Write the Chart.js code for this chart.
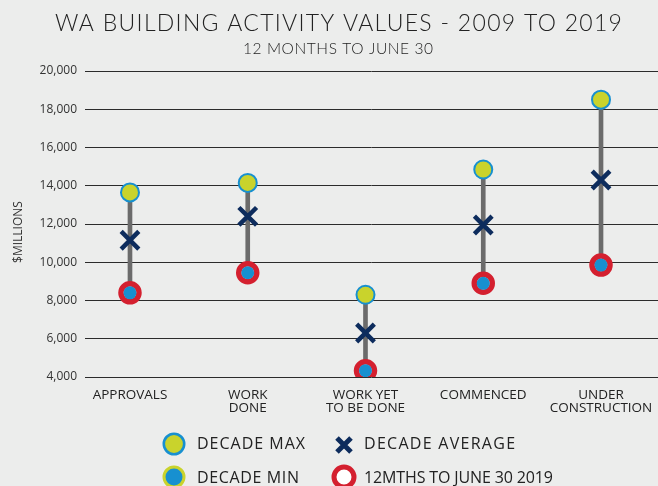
<!DOCTYPE html>
<html><head><meta charset="utf-8">
<script src="https://cdn.jsdelivr.net/npm/chart.js@4.4.0/dist/chart.umd.min.js"></script>
<style>
html,body{margin:0;padding:0;background:#ecedec;overflow:hidden}
#wrap{width:658px;height:486px;position:relative}
</style>
</head><body>
<div id="wrap"><canvas id="c" width="658" height="486"></canvas></div>
<script>
// ---- data ----
const categories = [['APPROVALS'], ['WORK', 'DONE'], ['WORK YET', 'TO BE DONE'], ['COMMENCED'], ['UNDER', 'CONSTRUCTION']];
const decadeMax = [13650, 14150, 8300, 14850, 18500];
const decadeAvg = [11150, 12400, 6300, 11950, 14300];
const decadeMin = [8400, 9450, 4330, 8900, 9850];
const current2019 = [8400, 9450, 4330, 8900, 9850];
const yTickValues = [4000, 6000, 8000, 10000, 12000, 14000, 16000, 18000, 20000];
const titleText = 'WA BUILDING ACTIVITY VALUES - 2009 TO 2019';
const subtitleText = '12 MONTHS TO JUNE 30';
const yTitle = '$MILLIONS';
const legendLabels = ['DECADE MAX', 'DECADE AVERAGE', 'DECADE MIN', '12MTHS TO JUNE 30 2019'];

// ---- styles ----
const YELLOW = '#c9d32c', BLUE = '#1790d0', RED = '#d4202f', NAVY = '#0d2c5d', GREY = '#6b6b6b', TEXT = '#222';
const FONT = "'Open Sans', 'Noto Sans', sans-serif";

const pts = arr => arr.map((v, i) => ({x: i, y: v}));

function fitText(ctx, text, x, y, targetW, font) {
  ctx.font = font;
  ctx.letterSpacing = '0px';
  const w = ctx.measureText(text).width;
  const n = text.length;
  const ls = n > 1 ? (targetW - w) / (n - 1) : 0;
  ctx.letterSpacing = ls.toFixed(2) + 'px';
  ctx.fillText(text, x, y);
  ctx.letterSpacing = '0px';
}

const decor = {
  id: 'decor',
  afterDraw(chart) {
    const ctx = chart.ctx;
    ctx.save();
    ctx.fillStyle = TEXT;
    ctx.textBaseline = 'middle';
    ctx.textAlign = 'left';
    // title & subtitle
    fitText(ctx, titleText, 55, 24, 567, "300 23px Lato, sans-serif");
    fitText(ctx, subtitleText, 243, 48.5, 190, "300 15.5px Lato, sans-serif");
    // y title
    ctx.save();
    ctx.translate(19, 232);
    ctx.rotate(-Math.PI / 2);
    ctx.textAlign = 'center';
    ctx.font = "12px " + FONT;
    ctx.fillStyle = '#333';
    ctx.fillText(yTitle, 0, 0);
    ctx.restore();
    // legend
    ctx.beginPath(); ctx.arc(174, 444, 10.2, 0, Math.PI * 2);
    ctx.fillStyle = YELLOW; ctx.fill(); ctx.lineWidth = 2.6; ctx.strokeStyle = BLUE; ctx.stroke();
    ctx.beginPath(); ctx.arc(174, 477, 10, 0, Math.PI * 2);
    ctx.fillStyle = BLUE; ctx.fill(); ctx.lineWidth = 3; ctx.strokeStyle = YELLOW; ctx.stroke();
    ctx.beginPath();
    ctx.moveTo(337, 438); ctx.lineTo(351, 452);
    ctx.moveTo(351, 438); ctx.lineTo(337, 452);
    ctx.lineWidth = 5; ctx.strokeStyle = NAVY; ctx.lineCap = 'butt'; ctx.stroke();
    ctx.beginPath(); ctx.arc(344, 477, 10, 0, Math.PI * 2);
    ctx.fillStyle = '#ffffff'; ctx.fill(); ctx.lineWidth = 5; ctx.strokeStyle = RED; ctx.stroke();
    ctx.fillStyle = TEXT;
    const lf = "16px " + FONT;
    fitText(ctx, legendLabels[0], 197, 444, 108, lf);
    fitText(ctx, legendLabels[1], 364, 444, 151, lf);
    fitText(ctx, legendLabels[2], 197, 478, 102, lf);
    fitText(ctx, legendLabels[3], 364, 478, 189, lf);
    ctx.restore();
  }
};

new Chart(document.getElementById('c'), {
  type: 'scatter',
  data: {
    datasets: [
      { label: legendLabels[2], data: pts(decadeMin), pointStyle: 'circle', pointRadius: 6.5,
        backgroundColor: BLUE, borderColor: BLUE, borderWidth: 0, order: 1 },
      { label: legendLabels[1], data: pts(decadeAvg), pointStyle: 'crossRot', pointRadius: 12.5,
        borderColor: NAVY, backgroundColor: NAVY, borderWidth: 4.5, order: 1 },
      { label: legendLabels[0], data: pts(decadeMax), pointStyle: 'circle', pointRadius: 9,
        backgroundColor: YELLOW, borderColor: BLUE, borderWidth: 2, order: 1 },
      { label: legendLabels[3], data: pts(current2019), pointStyle: 'circle', pointRadius: 9,
        backgroundColor: '#ffffff', borderColor: RED, borderWidth: 5.5, order: 2 },
      { type: 'bar', label: 'range', data: decadeMin.map((v, i) => ({x: i, y: [v, decadeMax[i]]})),
        backgroundColor: GREY, borderWidth: 0, barThickness: 4, order: 5 }
    ]
  },
  options: {
    responsive: false,
    animation: false,
    events: [],
    layout: { autoPadding: false, padding: { top: 71, bottom: 59, left: 0, right: 0 } },
    plugins: { legend: { display: false }, tooltip: { enabled: false }, title: { display: false } },
    scales: {
      x: {
        type: 'linear', min: -0.382, max: 4.484, offset: false,
        grid: { display: false, drawTicks: false, offset: false },
        border: { display: false },
        afterBuildTicks: ax => { ax.ticks = categories.map((c, i) => ({ value: i })); },
        afterFit: ax => { ax.height = 50; ax.paddingLeft = 0; ax.paddingRight = 0; },
        ticks: {
          autoSkip: false, maxRotation: 0, minRotation: 0, padding: 11,
          color: TEXT, font: { family: FONT, size: 13.5, lineHeight: 1.0 },
          callback: v => categories[v]
        }
      },
      y: {
        min: 4000, max: 20000,
        afterBuildTicks: ax => { ax.ticks = yTickValues.map(v => ({ value: v })); },
        afterFit: ax => { ax.width = 85; },
        grid: { color: '#2b2b2b', lineWidth: 1, drawTicks: false },
        border: { display: false },
        ticks: {
          padding: 8, color: '#333', font: { family: FONT, size: 12 },
          callback: v => v.toLocaleString('en-US')
        }
      }
    }
  },
  plugins: [decor]
});
</script>
</body></html>
